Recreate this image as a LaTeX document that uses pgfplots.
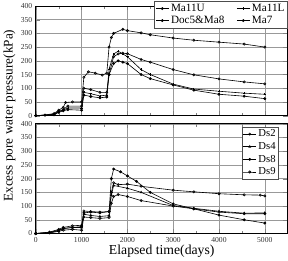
\documentclass[border=0pt]{standalone}
\usepackage{pgfplots}
\pgfplotsset{compat=1.18}
\usepackage{fontspec}
\setmainfont{Liberation Serif}
\begin{document}
\begin{tikzpicture}
\pgfplotsset{
  every axis/.append style={
    scale only axis, width=248pt, height=108pt,
    xmin=0, xmax=5500, xtick={0,1000,...,5000},
    minor xtick={500,1500,...,4500},
    ymin=0, ymax=400, ytick={0,50,...,400},
    grid=major, major grid style={gray!80, line width=0.35pt},
    tick align=inside, axis line style={line width=0.6pt},
    tick label style={font=\fontsize{7.5}{8}\selectfont, text=black!80},
    /pgf/number format/assume math mode=true,
    /pgf/number format/set thousands separator={},
    legend cell align=left,
    legend image code/.code={\draw[mark repeat=2,mark phase=2,#1] plot coordinates {(0cm,0cm)(0.22cm,0cm)(0.44cm,0cm)};},
  },
  ser/.style={black, line width=0.6pt, mark size=1.1pt, mark options={solid, black}},
}
\begin{axis}[name=top, xticklabels={},
  legend columns=2,
  legend style={at={(1,1)}, anchor=north east, yshift=5pt, font=\fontsize{11}{11}\selectfont,
    draw=black!70, inner sep=1pt, row sep=-1pt, /tikz/every even column/.append style={column sep=10pt}},
]
\addplot[ser, mark=o] coordinates {(0,0)(200,2)(400,8)(500,20)(600,30)(650,48)(800,50)(1000,50)(1050,140)(1150,160)(1300,155)(1450,148)(1550,155)(1600,250)(1650,285)(1700,300)(1900,315)(2000,310)(2300,302)(2500,295)(3000,283)(3450,275)(4000,268)(4550,261)(5000,250)};
\addlegendentry{Ma11U}
\addplot[ser, mark=+] coordinates {(0,0)(400,5)(500,15)(600,20)(700,28)(1000,28)(1050,85)(1200,80)(1400,72)(1550,75)(1600,170)(1700,225)(1800,235)(1900,225)(2000,215)(2300,168)(2500,150)(3000,115)(3450,97)(4000,89)(4550,82)(5000,78)};
\addlegendentry{Ma11L}
\addplot[ser, mark=*] coordinates {(0,0)(400,3)(500,12)(600,18)(700,22)(1000,20)(1050,75)(1200,70)(1400,65)(1550,68)(1600,150)(1700,190)(1800,200)(1900,195)(2000,190)(2300,150)(2500,135)(3000,112)(3450,93)(4000,78)(4550,71)(5000,62)};
\addlegendentry{Doc5\&Ma8}
\addplot[ser, mark=o] coordinates {(0,0)(200,2)(400,5)(500,15)(600,22)(700,35)(1000,35)(1050,100)(1200,95)(1400,85)(1550,85)(1600,150)(1700,215)(1800,225)(1900,228)(2000,226)(2300,205)(2500,195)(3000,168)(3450,149)(4000,134)(4550,123)(5000,116)};
\addlegendentry{Ma7}
\end{axis}
\begin{axis}[at={(top.south west)}, anchor=north west, yshift=-8pt, name=bot,
  xlabel={Elapsed time(days)}, xlabel style={font=\fontsize{13.5}{14}\selectfont, yshift=4pt},
  legend style={at={(0.965,0.975)}, anchor=north east, font=\fontsize{10.5}{11}\selectfont,
    draw=black!70, inner sep=1pt, row sep=0pt},
]
\addplot[ser, mark=o] coordinates {(0,0)(300,2)(500,8)(600,12)(800,15)(1000,12)(1050,60)(1200,58)(1400,55)(1600,58)(1650,110)(1700,135)(1800,142)(2000,135)(2300,120)(3000,100)(3450,90)(4000,78)(4550,72)(5000,72)};
\addlegendentry{Ds2}
\addplot[ser, mark=triangle] coordinates {(0,0)(300,4)(500,12)(600,18)(800,22)(1000,22)(1050,70)(1200,66)(1400,62)(1600,65)(1650,140)(1700,175)(2000,165)(2300,150)(3000,102)(3450,92)(4000,81)(4550,74)(5000,75)};
\addlegendentry{Ds4}
\addplot[ser, mark=*] coordinates {(0,0)(300,3)(500,10)(600,18)(800,22)(1000,25)(1050,75)(1200,78)(1400,75)(1600,80)(1650,200)(1700,235)(1850,225)(2000,210)(2200,190)(2500,150)(3000,108)(3450,90)(4000,67)(4550,50)(5000,38)};
\addlegendentry{Ds8}
\addplot[ser, mark=o] coordinates {(0,0)(300,5)(500,15)(600,22)(800,28)(1000,30)(1050,82)(1200,80)(1400,78)(1600,80)(1650,150)(1700,185)(1800,178)(2000,180)(2300,172)(3000,158)(3450,152)(4000,145)(4550,141)(4900,140)(5000,137)};
\addlegendentry{Ds9}
\end{axis}
\node[rotate=90, font=\fontsize{13}{13}\selectfont] at ([xshift=-30pt]top.south west) [yshift=-4pt] {Excess pore water pressure(kPa)};
\end{tikzpicture}
\end{document}
